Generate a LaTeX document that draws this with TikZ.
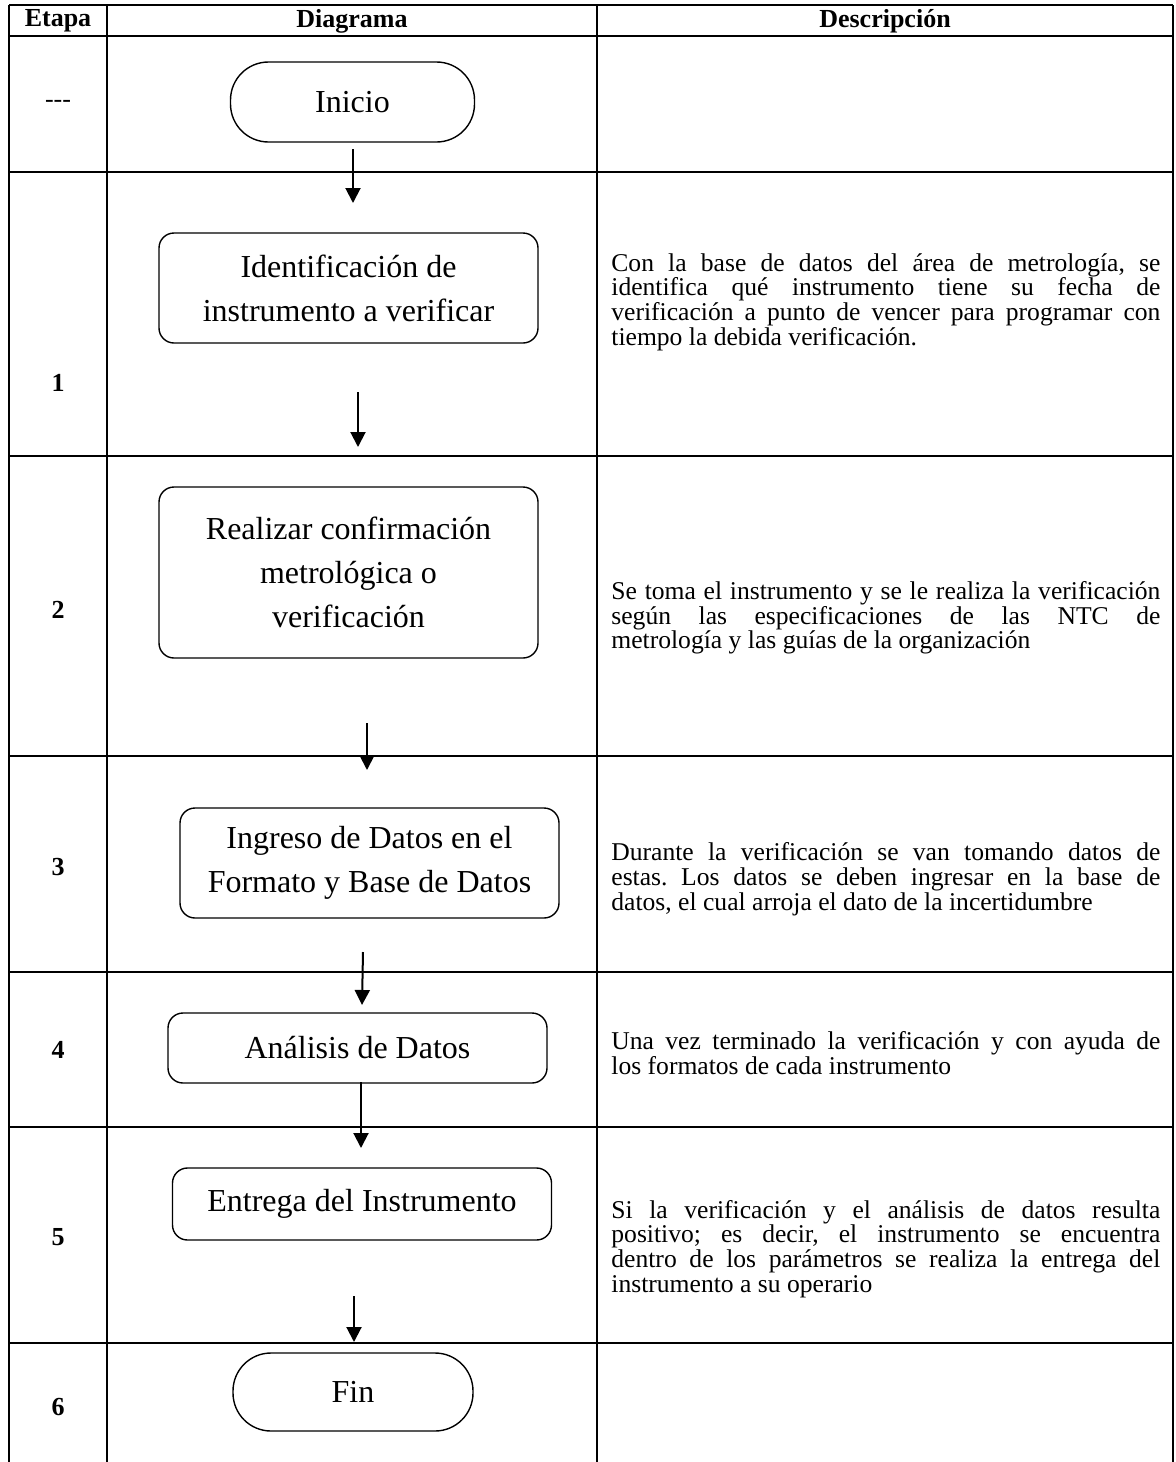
\documentclass[tikz,border=0pt]{standalone}
\usepackage{fontspec}
\setmainfont{Liberation Serif}
\usetikzlibrary{arrows.meta}
\frenchspacing

\begin{document}
\begin{tikzpicture}[x=0.5pt,y=-0.5pt,
  tabla/.style={line width=1pt},
  caja/.style={draw,line width=0.7pt,rounded corners=7.5pt,minimum width=189.5pt,align=center,font=\fontsize{16}{22}\selectfont},
  terminal/.style={draw,line width=0.7pt,rounded corners=19pt,minimum width=122pt,minimum height=40pt,font=\fontsize{16}{22}\selectfont},
  flecha/.style={line width=1pt,-{Triangle[length=7.5pt,width=7.5pt]}},
  desc/.style={anchor=west,inner sep=0pt,text width=274.5pt,align=justify,font=\fontsize{12.8}{12.35}\selectfont},
  titulo/.style={font=\bfseries\fontsize{13}{15}\selectfont},
  etapa/.style={font=\bfseries\fontsize{13}{15}\selectfont}]

\useasboundingbox (0,0) rectangle (1175,1462);

% rejilla de la tabla
\draw[tabla] (9,5) -- (1173,5);
\draw[tabla] (9,36) -- (1173,36);
\draw[tabla] (9,172) -- (1173,172);
\draw[tabla] (9,456) -- (1173,456);
\draw[tabla] (9,756) -- (1173,756);
\draw[tabla] (9,972) -- (1173,972);
\draw[tabla] (9,1127) -- (1173,1127);
\draw[tabla] (9,1343) -- (1173,1343);
\draw[tabla] (9,5) -- (9,1462);
\draw[tabla] (107,5) -- (107,1462);
\draw[tabla] (597,5) -- (597,1462);
\draw[tabla] (1173,5) -- (1173,1462);

\node[titulo] (hEtapa) at (58,21) {Etapa};
\node[titulo] (hDiagrama) at (352,21) {Diagrama};
\node[titulo] (hDescripcion) at (885,21) {Descripción};

\node[font=\fontsize{13}{15}\selectfont] (e0) at (58,104) {-{}-{}-};
\node[etapa] (e1) at (58,383) {1};
\node[etapa] (e2) at (58,610) {2};
\node[etapa] (e3) at (58,867) {3};
\node[etapa] (e4) at (58,1050) {4};
\node[etapa] (e5) at (58,1237) {5};
\node[etapa] (e6) at (58,1407) {6};

% diagrama
\node[terminal] (inicio) at (352.5,102) {Inicio};
\node[caja,minimum height=55pt] (identificacion) at (348.5,288) {Identificación de\\instrumento a verificar};
\node[caja,minimum height=85.5pt] (confirmacion) at (348.5,572.5) {Realizar confirmación\\metrológica o\\verificación};
\node[caja,minimum height=55pt] (ingreso) at (369.5,863) {Ingreso de Datos en el\\Formato y Base de Datos};
\node[caja,minimum height=35pt] (analisis) at (357.5,1048) {Análisis de Datos};
\node[caja,minimum height=36pt] (entrega) at (362,1204) {Entrega del Instrumento};
\node[terminal,minimum width=120pt,minimum height=39pt] (fin) at (353,1392) {Fin};

\coordinate (a1s) at (353,149);
\coordinate (a1e) at (353,203);
\coordinate (a2s) at (358,392);
\coordinate (a2e) at (358,447);
\coordinate (a3s) at (367,723);
\coordinate (a3e) at (367,770);
\coordinate (a4s) at (363,952);
\coordinate (a4e) at (362,1005);
\coordinate (a5s) at (361,1082);
\coordinate (a5e) at (361,1148);
\coordinate (a6s) at (354,1296);
\coordinate (a6e) at (354,1342);
\draw[flecha] (a1s) -- (a1e);
\draw[flecha] (a2s) -- (a2e);
\draw[flecha] (a3s) -- (a3e);
\draw[flecha] (a4s) -- (a4e);
\draw[flecha] (a5s) -- (a5e);
\draw[flecha] (a6s) -- (a6e);

% descripciones
\node[desc] (d1) at (611,302) {Con la base de datos del área de metrología, se\linebreak identifica qué instrumento tiene su fecha de\linebreak verificación a punto de vencer para programar con\linebreak tiempo la debida verificación.};
\node[desc] (d2) at (611,618) {Se toma el instrumento y se le realiza la verificación\linebreak según las especificaciones de las NTC de\linebreak metrología y las guías de la organización};
\node[desc] (d3) at (611,879) {Durante la verificación se van tomando datos de\linebreak estas. Los datos se deben ingresar en la base de\linebreak datos, el cual arroja el dato de la incertidumbre};
\node[desc] (d4) at (611,1053) {Una vez terminado la verificación y con ayuda de\linebreak los formatos de cada instrumento};
\node[desc] (d5) at (611,1249) {Si la verificación y el análisis de datos resulta\linebreak positivo; es decir, el instrumento se encuentra\linebreak dentro de los parámetros se realiza la entrega del\linebreak instrumento a su operario};

\end{tikzpicture}
\end{document}
